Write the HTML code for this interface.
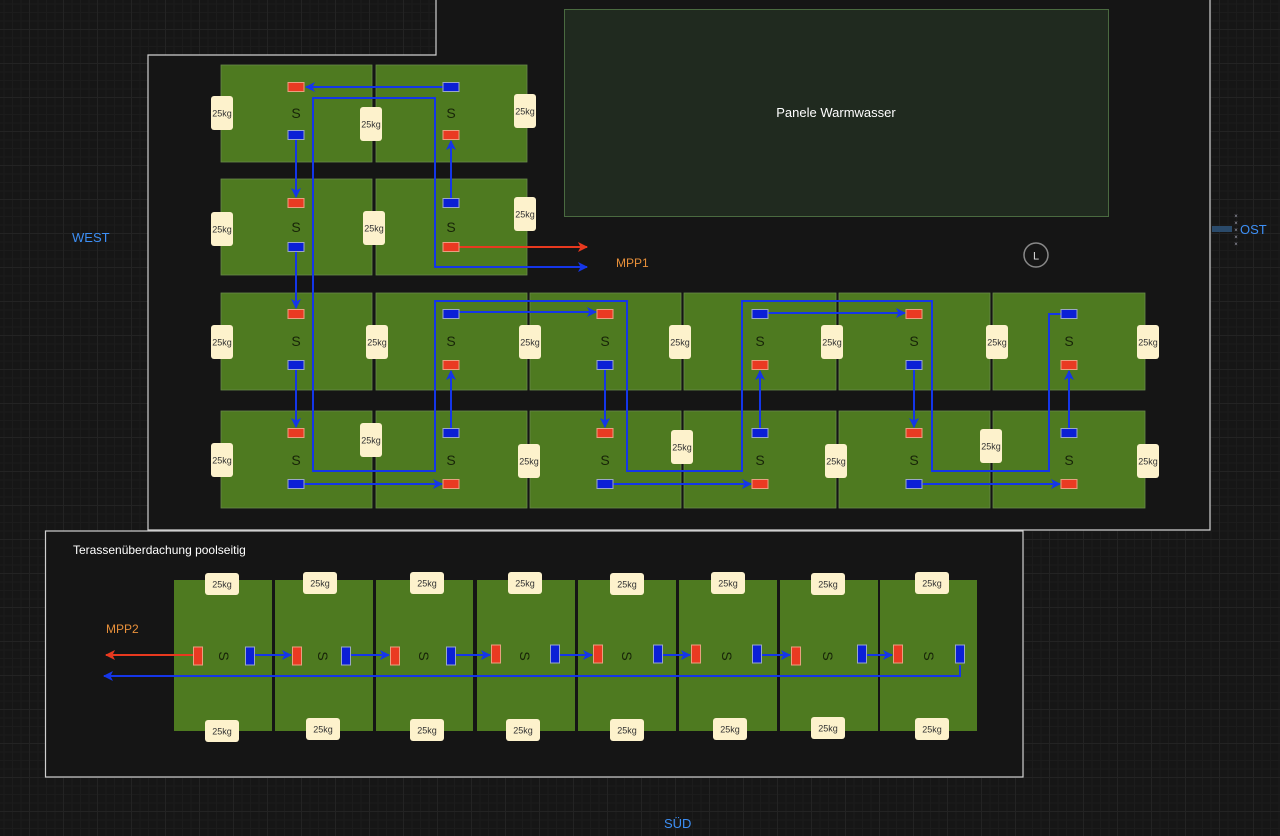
<!DOCTYPE html>
<html><head><meta charset="utf-8"><style>
html,body{margin:0;padding:0;width:1280px;height:836px;overflow:hidden;background:#161616;}
body{background-color:#161616;background-image:linear-gradient(#232323 1px,transparent 1px),linear-gradient(90deg,#232323 1px,transparent 1px),linear-gradient(#1c1c1c 1px,transparent 1px),linear-gradient(90deg,#1c1c1c 1px,transparent 1px);background-size:34px 34px,34px 34px,8.5px 8.5px,8.5px 8.5px;background-position:-5px -5px;}
svg{position:absolute;left:0;top:0;font-family:"Liberation Sans",sans-serif;}
</style></head><body>
<svg width="1280" height="836" viewBox="0 0 1280 836">
<defs>
<marker id="ab" markerWidth="10" markerHeight="10" refX="9" refY="5" orient="auto" markerUnits="userSpaceOnUse"><path d="M0,0 L10,5 L0,10 L2.5,5 z" fill="#1536e8"/></marker>
<marker id="ar" markerWidth="10" markerHeight="10" refX="9" refY="5" orient="auto" markerUnits="userSpaceOnUse"><path d="M0,0 L10,5 L0,10 L2.5,5 z" fill="#e8391f"/></marker>
<g id="kgv"><rect x="-11" y="-17" width="22" height="34" rx="3" fill="#fdf2cc"/><text x="0" y="3.5" font-size="9" text-anchor="middle" fill="#333">25kg</text></g>
<g id="kgh"><rect x="-17" y="-11" width="34" height="22" rx="3" fill="#fdf2cc"/><text x="0" y="3.5" font-size="9" text-anchor="middle" fill="#333">25kg</text></g>
<rect id="rh" x="-8" y="-4.5" width="16" height="9" fill="#ea3a22" stroke="#e9a080" stroke-width="1"/>
<rect id="bh" x="-8" y="-4.5" width="16" height="9" fill="#0b1fd6" stroke="#9aa7c8" stroke-width="1"/>
<rect id="rv" x="-4.5" y="-9" width="9" height="18" fill="#ea3a22" stroke="#e9a080" stroke-width="1"/>
<rect id="bv" x="-4.5" y="-9" width="9" height="18" fill="#0b1fd6" stroke="#9aa7c8" stroke-width="1"/>
</defs>
<path d="M148,530 L148,55 L436,55 L436,-2 L1210,-2 L1210,530 Z" fill="#151515" stroke="#d0d0d0" stroke-width="1.2"/>
<rect x="45.5" y="531" width="977.5" height="246" fill="#151515" stroke="#d0d0d0" stroke-width="1.2"/>
<rect x="564.5" y="9.5" width="544" height="207" fill="#202a1f" stroke="#4a6a40"/>
<text x="836" y="117" font-size="13" fill="#fff" text-anchor="middle">Panele Warmwasser</text>
<circle cx="1036" cy="255" r="12" fill="none" stroke="#888" stroke-width="1.5"/>
<text x="1036" y="259.5" font-size="11" fill="#ddd" text-anchor="middle">L</text>
<g fill="#4e7a20" stroke="#6a8a4a" stroke-width="0.8">
<rect x="221" y="65" width="151" height="97"/><rect x="376" y="65" width="151" height="97"/>
<rect x="221" y="179" width="151" height="96"/><rect x="376" y="179" width="151" height="96"/>
<rect x="221" y="293" width="151" height="97"/><rect x="376" y="293" width="151" height="97"/><rect x="530" y="293" width="151" height="97"/><rect x="684" y="293" width="152" height="97"/><rect x="839" y="293" width="151" height="97"/><rect x="993" y="293" width="152" height="97"/>
<rect x="221" y="411" width="151" height="97"/><rect x="376" y="411" width="151" height="97"/><rect x="530" y="411" width="151" height="97"/><rect x="684" y="411" width="152" height="97"/><rect x="839" y="411" width="151" height="97"/><rect x="993" y="411" width="152" height="97"/>
</g>
<g font-size="14" fill="#172408" text-anchor="middle">
<text x="296" y="118">S</text><text x="451" y="118">S</text>
<text x="296" y="232">S</text><text x="451" y="232">S</text>
<text x="296" y="346">S</text><text x="451" y="346">S</text><text x="605" y="346">S</text><text x="760" y="346">S</text><text x="914" y="346">S</text><text x="1069" y="346">S</text>
<text x="296" y="465">S</text><text x="451" y="465">S</text><text x="605" y="465">S</text><text x="760" y="465">S</text><text x="914" y="465">S</text><text x="1069" y="465">S</text>
</g>
<g fill="none" stroke="#1536e8" stroke-width="2">
<path d="M443,87 L306,87" marker-end="url(#ab)"/>
<path d="M296,140 L296,197" marker-end="url(#ab)"/>
<path d="M296,252 L296,308" marker-end="url(#ab)"/>
<path d="M296,370 L296,427" marker-end="url(#ab)"/>
<path d="M451,198 L451,141" marker-end="url(#ab)"/>
<path d="M304,484 L442,484" marker-end="url(#ab)"/>
<path d="M451,428 L451,371" marker-end="url(#ab)"/>
<path d="M459,312 L596,312" marker-end="url(#ab)"/>
<path d="M605,370 L605,427" marker-end="url(#ab)"/>
<path d="M613,484 L751,484" marker-end="url(#ab)"/>
<path d="M760,428 L760,371" marker-end="url(#ab)"/>
<path d="M768,313 L905,313" marker-end="url(#ab)"/>
<path d="M914,370 L914,427" marker-end="url(#ab)"/>
<path d="M922,484 L1060,484" marker-end="url(#ab)"/>
<path d="M1069,428 L1069,371" marker-end="url(#ab)"/>
<path d="M1061,314 L1049,314 L1049,471 L932,471 L932,301 L742,301 L742,471 L627,471 L627,301 L435,301 L435,471 L313,471 L313,98 L435,98 L435,267 L587,267" marker-end="url(#ab)"/>
</g>
<path d="M459,247 L587,247" stroke="#e8391f" stroke-width="2" fill="none" marker-end="url(#ar)"/>
<use href="#rh" x="296" y="87"/><use href="#bh" x="451" y="87"/>
<use href="#bh" x="296" y="135"/><use href="#rh" x="451" y="135"/>
<use href="#rh" x="296" y="203"/><use href="#bh" x="451" y="203"/>
<use href="#bh" x="296" y="247"/><use href="#rh" x="451" y="247"/>
<use href="#rh" x="296" y="314"/><use href="#bh" x="451" y="314"/><use href="#rh" x="605" y="314"/><use href="#bh" x="760" y="314"/><use href="#rh" x="914" y="314"/><use href="#bh" x="1069" y="314"/>
<use href="#bh" x="296" y="365"/><use href="#rh" x="451" y="365"/><use href="#bh" x="605" y="365"/><use href="#rh" x="760" y="365"/><use href="#bh" x="914" y="365"/><use href="#rh" x="1069" y="365"/>
<use href="#rh" x="296" y="433"/><use href="#bh" x="451" y="433"/><use href="#rh" x="605" y="433"/><use href="#bh" x="760" y="433"/><use href="#rh" x="914" y="433"/><use href="#bh" x="1069" y="433"/>
<use href="#bh" x="296" y="484"/><use href="#rh" x="451" y="484"/><use href="#bh" x="605" y="484"/><use href="#rh" x="760" y="484"/><use href="#bh" x="914" y="484"/><use href="#rh" x="1069" y="484"/>
<use href="#kgv" x="222" y="113"/><use href="#kgv" x="371" y="124"/><use href="#kgv" x="525" y="111"/>
<use href="#kgv" x="222" y="229"/><use href="#kgv" x="374" y="228"/><use href="#kgv" x="525" y="214"/>
<use href="#kgv" x="222" y="342"/><use href="#kgv" x="377" y="342"/><use href="#kgv" x="530" y="342"/><use href="#kgv" x="680" y="342"/><use href="#kgv" x="832" y="342"/><use href="#kgv" x="997" y="342"/><use href="#kgv" x="1148" y="342"/>
<use href="#kgv" x="222" y="460"/><use href="#kgv" x="371" y="440"/><use href="#kgv" x="529" y="461"/><use href="#kgv" x="682" y="447"/><use href="#kgv" x="836" y="461"/><use href="#kgv" x="991" y="446"/><use href="#kgv" x="1148" y="461"/>
<text x="616" y="267" font-size="12" fill="#e8903a">MPP1</text>
<text x="72" y="242" font-size="13" fill="#3d8ff5">WEST</text>
<text x="1240" y="234" font-size="13" fill="#3d8ff5">OST</text>
<path d="M1212,229 L1232,229" stroke="#2a4a6a" stroke-width="6"/>
<g font-size="6" fill="#aab" text-anchor="middle"><text x="1236" y="218">×</text><text x="1236" y="225">×</text><text x="1236" y="232">×</text><text x="1236" y="239">×</text><text x="1236" y="246">×</text></g>
<text x="664" y="828" font-size="13" fill="#3d8ff5">SÜD</text>
<text x="73" y="554" font-size="12" fill="#fff">Terassenüberdachung poolseitig</text>
<text x="106" y="633" font-size="12" fill="#e8903a">MPP2</text>
<g fill="#4e7a20">
<rect x="174" y="580" width="98" height="151"/><rect x="275" y="580" width="98" height="151"/><rect x="376" y="580" width="97" height="151"/><rect x="477" y="580" width="98" height="151"/><rect x="578" y="580" width="98" height="151"/><rect x="679" y="580" width="98" height="151"/><rect x="780" y="580" width="98" height="151"/><rect x="880" y="580" width="97" height="151"/>
</g>
<g font-size="14" fill="#172408" text-anchor="middle">
<text transform="translate(224,656) rotate(90)" y="5">S</text><text transform="translate(323,656) rotate(90)" y="5">S</text><text transform="translate(424,656) rotate(90)" y="5">S</text><text transform="translate(525,656) rotate(90)" y="5">S</text><text transform="translate(627,656) rotate(90)" y="5">S</text><text transform="translate(727,656) rotate(90)" y="5">S</text><text transform="translate(828,656) rotate(90)" y="5">S</text><text transform="translate(929,656) rotate(90)" y="5">S</text>
</g>
<g fill="none" stroke="#1536e8" stroke-width="2">
<path d="M255,655 L291,655" marker-end="url(#ab)"/>
<path d="M351,655 L389,655" marker-end="url(#ab)"/>
<path d="M456,655 L490,655" marker-end="url(#ab)"/>
<path d="M560,655 L592,655" marker-end="url(#ab)"/>
<path d="M663,655 L690,655" marker-end="url(#ab)"/>
<path d="M762,655 L790,655" marker-end="url(#ab)"/>
<path d="M867,655 L892,655" marker-end="url(#ab)"/>
<path d="M960,665 L960,676 L104,676" marker-end="url(#ab)"/>
</g>
<path d="M193,655 L106,655" stroke="#e8391f" stroke-width="2" fill="none" marker-end="url(#ar)"/>
<use href="#rv" x="198" y="656"/><use href="#bv" x="250" y="656"/>
<use href="#rv" x="297" y="656"/><use href="#bv" x="346" y="656"/>
<use href="#rv" x="395" y="656"/><use href="#bv" x="451" y="656"/>
<use href="#rv" x="496" y="654"/><use href="#bv" x="555" y="654"/>
<use href="#rv" x="598" y="654"/><use href="#bv" x="658" y="654"/>
<use href="#rv" x="696" y="654"/><use href="#bv" x="757" y="654"/>
<use href="#rv" x="796" y="656"/><use href="#bv" x="862" y="654"/>
<use href="#rv" x="898" y="654"/><use href="#bv" x="960" y="654"/>
<use href="#kgh" x="222" y="584"/><use href="#kgh" x="320" y="583"/><use href="#kgh" x="427" y="583"/><use href="#kgh" x="525" y="583"/><use href="#kgh" x="627" y="584"/><use href="#kgh" x="728" y="583"/><use href="#kgh" x="828" y="584"/><use href="#kgh" x="932" y="583"/>
<use href="#kgh" x="222" y="731"/><use href="#kgh" x="323" y="729"/><use href="#kgh" x="427" y="730"/><use href="#kgh" x="523" y="730"/><use href="#kgh" x="627" y="730"/><use href="#kgh" x="730" y="729"/><use href="#kgh" x="828" y="728"/><use href="#kgh" x="932" y="729"/>
</svg>
</body></html>
